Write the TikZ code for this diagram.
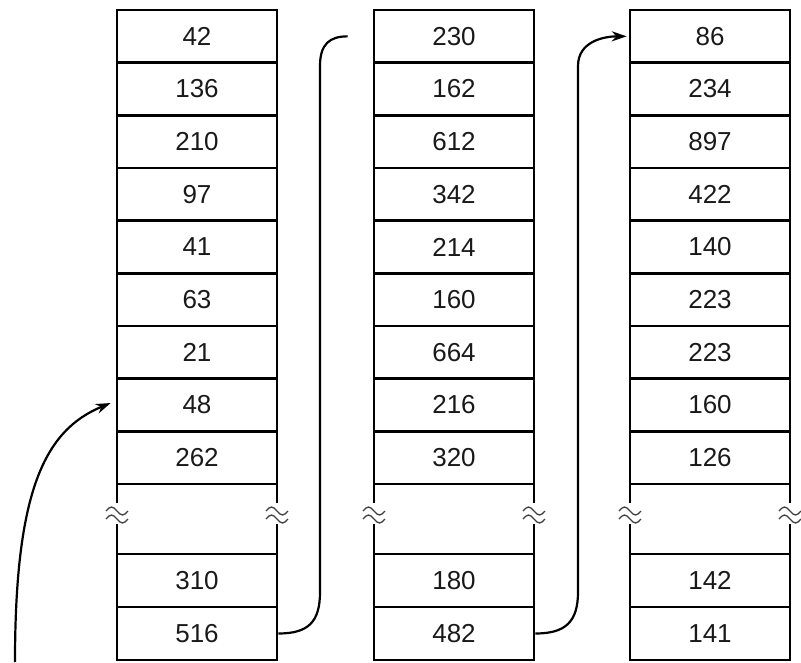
\documentclass[tikz,border=0pt]{standalone}
\usepackage{fontspec}
\setmainfont{Liberation Sans}
\usetikzlibrary{arrows.meta,calc}
\begin{document}
\begin{tikzpicture}[x=1pt,y=-1pt,
  cell/.style={draw, line width=2.6pt, minimum width=160pt, minimum height=52.67pt,
    inner sep=0pt, font=\fontsize{26}{31}\selectfont, text=black!90},
  gapcell/.style={cell, minimum height=70pt},
  conn/.style={line width=2.2pt},
  tip/.style={-{Stealth[length=15pt,width=10pt]}},
  brk/.pic={
    \fill[white] (-12,-10) rectangle (12,11);
    \draw[line width=1.3pt, black!75] (-11,-2) sin (-5.5,-6) cos (0,-2) sin (5.5,2) cos (11,-2);
    \draw[line width=1.3pt, black!75] (-11,6) sin (-5.5,2) cos (0,6) sin (5.5,10) cos (11,6);
  }]
\useasboundingbox (0,0) rectangle (801,662);
\foreach \c/\x/\vals/\lo/\lt in {
  a/197/{42,136,210,97,41,63,21,48,262}/310/516,
  b/454/{230,162,612,342,214,160,664,216,320}/180/482,
  c/710/{86,234,897,422,140,223,223,160,126}/142/141}{
  \foreach \v [count=\i] in \vals {
    \node[cell] (\c\i) at (\x, {10+52.67*(\i-0.5)}) {\v};
  }
  \node[gapcell] (\c g) at (\x,519) {};
  \node[cell] (\c10) at (\x,580.5) {\lo};
  \node[cell] (\c11) at (\x,633.5) {\lt};
  \pic at ($(\c g.west)+(1.3,-6)$) {brk};
  \pic at ($(\c g.east)+(-1.3,-6)$) {brk};
}
% connector from 516 (no head)
\coordinate (e1) at ($(b1.west)+(-25,0)$);
\draw[conn] (a11.east) .. controls +(30,0) and +(0,30) .. (320,592)
  -- (320,66) .. controls +(0,-22) and +(-18,0) .. (e1);
% connector from 482 to 86
\draw[conn,tip] (b11.east) .. controls +(30,0) and +(0,30) .. (578,592)
  -- (578,66) .. controls +(0,-24) and +(-24,0) .. ($(c1.west)+(-2,0)$);
% incoming arrow to 48
\coordinate (s) at (15,662);
\draw[conn,tip] (s) .. controls (15,490) and (45,430) .. ($(a8.west)+(-5,-2)$);
\end{tikzpicture}
\end{document}
